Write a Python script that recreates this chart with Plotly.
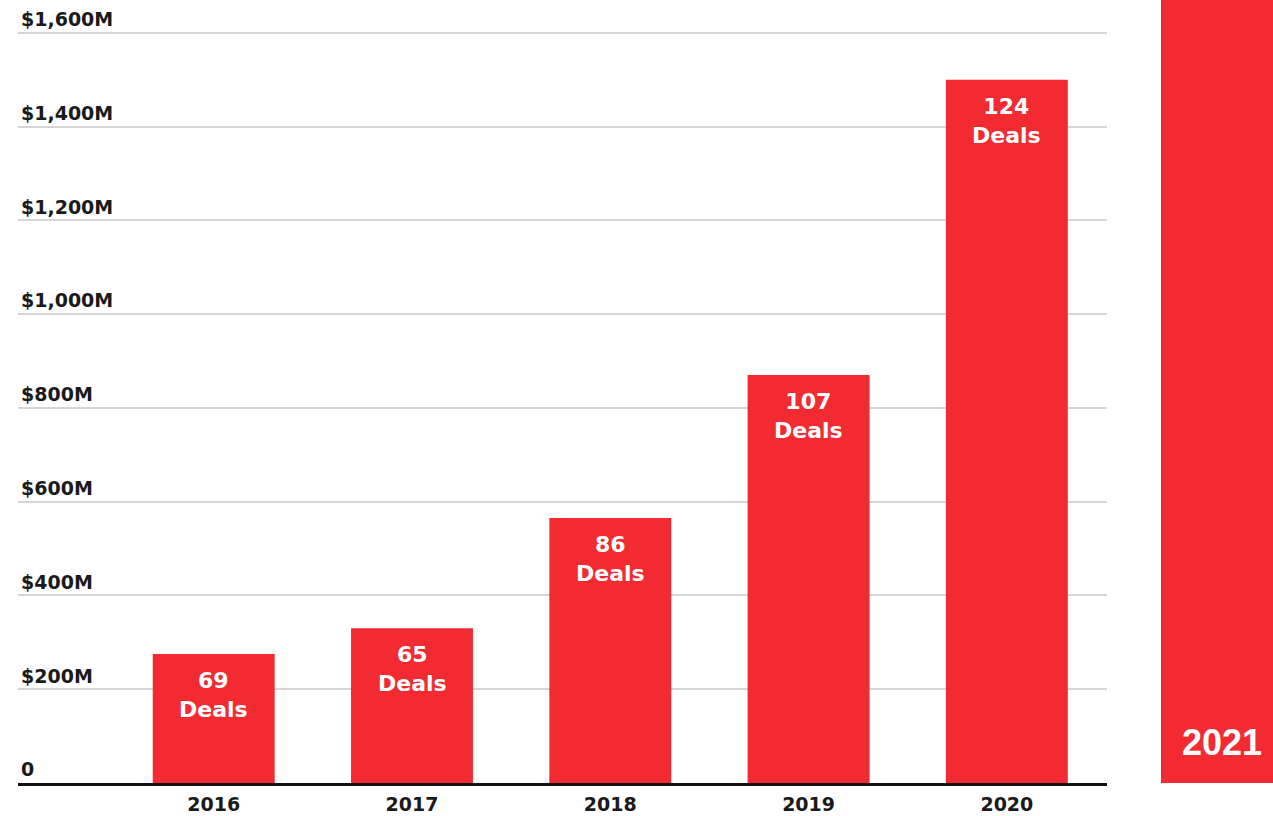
import plotly.graph_objects as go

# Annual totals (in $M) and deal counts
years = ["2016", "2017", "2018", "2019", "2020"]
amounts = [275, 330, 565, 870, 1500]
deals = [69, 65, 86, 107, 124]
y_ticks = [0, 200, 400, 600, 800, 1000, 1200, 1400, 1600]
y_tick_text = ["0", "$200M", "$400M", "$600M", "$800M", "$1,000M", "$1,200M", "$1,400M", "$1,600M"]
tab_label = "2021"

RED = "#F22A32"
FONT = "DejaVu Sans"

W, H = 1273, 816
M_L, M_R, M_T, M_B = 18, 166, 0, 33
PLOT_W = W - M_L - M_R
PLOT_H = H - M_T - M_B

fig = go.Figure()
fig.add_trace(go.Bar(
    x=years,
    y=amounts,
    marker=dict(color=RED, line=dict(width=0)),
    width=0.615,
    hoverinfo="skip",
))

# deal-count labels inside the top of each bar (category index positions)
for i, (amt, n) in enumerate(zip(amounts, deals)):
    fig.add_annotation(
        x=i, y=amt, xref="x", yref="y",
        text=f"<b>{n}</b><br><b>Deals</b>",
        showarrow=False, yanchor="top", yshift=-12,
        font=dict(family=FONT, size=22, color="white"),
        align="center",
    )

# red side tab with the next year
fig.add_shape(
    type="rect", xref="paper", yref="paper",
    x0=(1161 - M_L) / PLOT_W, x1=(1285 - M_L) / PLOT_W,
    y0=0, y1=1.05,
    fillcolor=RED, line=dict(width=0), layer="above",
)
fig.add_annotation(
    xref="paper", yref="paper",
    x=(1222 - M_L) / PLOT_W, y=(H - M_B - 742) / PLOT_H,
    text=f"<b>{tab_label}</b>", showarrow=False,
    xanchor="center", yanchor="middle",
    font=dict(family="Liberation Sans", size=36, color="white"),
)

fig.update_layout(
    width=W, height=H,
    margin=dict(l=M_L, r=M_R, t=M_T, b=M_B),
    paper_bgcolor="white", plot_bgcolor="white",
    showlegend=False,
    xaxis=dict(
        type="category",
        range=[-0.987, 4.505],
        automargin=False,
        showgrid=False,
        showline=True, linecolor="#111111", linewidth=3,
        ticks="", ticklabelstandoff=2,
        tickfont=dict(family=FONT, size=19, color="#1a1a1a", weight="bold"),
        fixedrange=True,
    ),
    yaxis=dict(
        range=[0, 1670],
        automargin=False,
        tickmode="array", tickvals=y_ticks, ticktext=y_tick_text,
        ticklabelposition="inside top",
        showgrid=True, gridcolor="#d6d6d6", gridwidth=1.5,
        zeroline=False, showline=False, ticks="",
        tickfont=dict(family=FONT, size=19, color="#1a1a1a", weight="bold"),
        fixedrange=True,
    ),
)

fig.write_html("out.html")
